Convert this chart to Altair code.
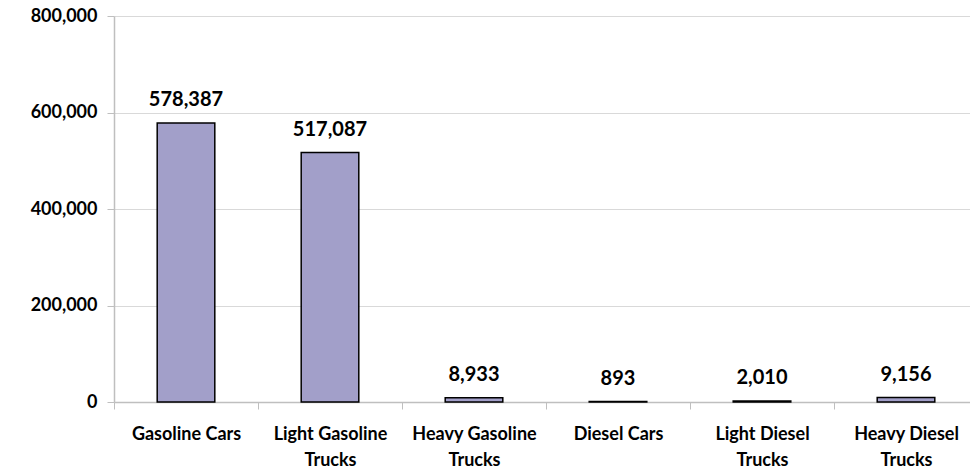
import altair as alt
import pandas as pd

# Vehicle categories and their counts
categories = [
    "Gasoline Cars",
    "Light Gasoline\nTrucks",
    "Heavy Gasoline\nTrucks",
    "Diesel Cars",
    "Light Diesel\nTrucks",
    "Heavy Diesel\nTrucks",
]
counts = [578387, 517087, 8933, 893, 2010, 9156]
y_ticks = [0, 200000, 400000, 600000, 800000]

df = pd.DataFrame({"category": categories, "count": counts})

FONT = "Lato"
BAR_COLOR = "#a29fc9"

x_enc = alt.X(
    "category:N",
    sort=categories,
    title=None,
    scale=alt.Scale(range=[0, 864], paddingInner=0, paddingOuter=0),
    axis=alt.Axis(
        labelAngle=0,
        labelExpr="isString(datum.value) ? split(datum.value, '\\n') : ''",
        labelFont=FONT,
        labelFontSize=18,
        labelFontWeight="bold",
        labelColor="#000000",
        labelLineHeight=26,
        labelPadding=16,
        labelBound=False,
        labelOverlap=False,
        labelFlush=False,
        tickBand="extent",
        tickSize=7,
        tickColor="#bfbfbf",
        domainColor="#bfbfbf",
        domainWidth=1.5,
        grid=False,
    ),
)

y_enc = alt.Y(
    "count:Q",
    title=None,
    scale=alt.Scale(domain=[0, 800000], nice=False),
    axis=alt.Axis(
        values=y_ticks,
        format=",.0f",
        labelFont=FONT,
        labelFontSize=18,
        labelFontWeight="bold",
        labelColor="#000000",
        labelPadding=10,
        tickSize=7,
        tickColor="#bfbfbf",
        domainColor="#bfbfbf",
        domainWidth=1.5,
        gridColor="#d9d9d9",
        gridWidth=1,
    ),
)

bars = alt.Chart(df).mark_bar(
    width=alt.RelativeBandSize(0.4),
    color=BAR_COLOR,
    stroke="#000000",
    strokeWidth=1.5,
).encode(x=x_enc, y=y_enc)

labels = alt.Chart(df).mark_text(
    font=FONT,
    fontSize=20,
    fontWeight="bold",
    color="#000000",
    baseline="alphabetic",
    dy=-17,
).encode(
    x=x_enc,
    y=y_enc,
    text=alt.Text("count:Q", format=","),
)

chart = (
    alt.layer(bars, labels)
    .properties(
        width=856,
        height=386,
        autosize=alt.AutoSizeParams(type="none"),
        padding={"left": 114, "top": 16, "right": 0, "bottom": 67},
        background="#ffffff",
    )
    .configure_view(stroke=None)
)

chart.save("out.html", embed_options={"renderer": "svg", "actions": False})
